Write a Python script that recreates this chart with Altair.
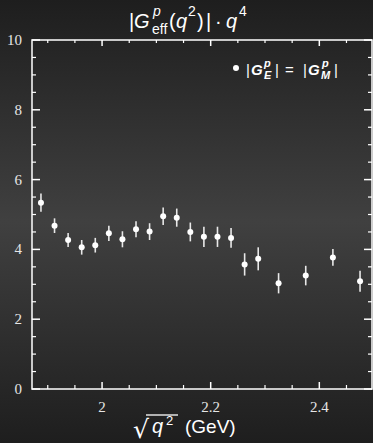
import altair as alt
import pandas as pd

# Proton effective form factor scaled by q^4, one point per energy bin
sqrt_q2 = [1.8875, 1.9125, 1.9375, 1.9625, 1.9875, 2.0125, 2.0375, 2.0625,
           2.0875, 2.1125, 2.1375, 2.1625, 2.1875, 2.2125, 2.2375, 2.2625,
           2.2875, 2.325, 2.375, 2.425, 2.475]
geff_q4 = [5.34, 4.68, 4.27, 4.06, 4.12, 4.46, 4.29, 4.58, 4.51, 4.95, 4.91,
           4.50, 4.36, 4.36, 4.33, 3.57, 3.73, 3.03, 3.25, 3.77, 3.09]
geff_err = [0.26, 0.21, 0.20, 0.21, 0.21, 0.22, 0.23, 0.23, 0.24, 0.25, 0.26,
            0.27, 0.29, 0.29, 0.28, 0.32, 0.33, 0.29, 0.28, 0.24, 0.30]

x_major = [2.0, 2.2, 2.4]
x_labels = ["2", "2.2", "2.4"]
x_minor = [1.9, 1.95, 2.05, 2.1, 2.15, 2.25, 2.3, 2.35, 2.45]
y_major = [0, 2, 4, 6, 8, 10]
y_labels = ["0", "2", "4", "6", "8", "10"]
y_minor = [0.5, 1, 1.5, 2.5, 3, 3.5, 4.5, 5, 5.5, 6.5, 7, 7.5, 8.5, 9, 9.5]

W, H = 340, 349
FG = "#ffffff"
LABEL = "#e6e6e6"
SERIF = "'Liberation Serif', 'Times New Roman', 'DejaVu Serif', serif"

df = pd.DataFrame({
    "x": sqrt_q2,
    "g": geff_q4,
    "lo": [v - e for v, e in zip(geff_q4, geff_err)],
    "hi": [v + e for v, e in zip(geff_q4, geff_err)],
})
one = pd.DataFrame({"k": [0]})

xs = alt.Scale(domain=[1.871, 2.497], nice=False, zero=False)
ys = alt.Scale(domain=[0, 10], nice=False, zero=False)

# dark backdrop, lighter through the middle
backdrop = alt.Chart(one).mark_rect(
    fill=alt.Gradient(
        gradient="linear", x1=0, x2=0, y1=0, y2=1,
        stops=[alt.GradientStop(color="#1e1e1e", offset=0),
               alt.GradientStop(color="#404040", offset=0.5),
               alt.GradientStop(color="#1e1e1e", offset=1)],
    )
).encode(x=alt.value(-32), x2=alt.value(W + 1), y=alt.value(-40), y2=alt.value(H + 54))

# plot frame
frame = alt.Chart(one).mark_rect(fillOpacity=0, stroke=FG, strokeWidth=1.5).encode(
    x=alt.value(0), x2=alt.value(W), y=alt.value(0), y2=alt.value(H))

errbars = alt.Chart(df).mark_rule(color="#e8e8e8", strokeWidth=1.6).encode(
    x=alt.X("x:Q", scale=xs, axis=None),
    y=alt.Y("lo:Q", scale=ys, axis=None),
    y2="hi:Q",
)
points = alt.Chart(df).mark_point(filled=True, shape="circle", size=36,
                                  color=FG, opacity=1).encode(
    x=alt.X("x:Q", scale=xs, axis=None),
    y=alt.Y("g:Q", scale=ys, axis=None),
)


def xticks(vals, length, width):
    d = pd.DataFrame({"t": vals})
    bottom = alt.Chart(d).mark_rule(color=FG, strokeWidth=width).encode(
        x=alt.X("t:Q", scale=xs, axis=None),
        y=alt.value(H), y2=alt.value(H - length))
    top = alt.Chart(d).mark_rule(color=FG, strokeWidth=width).encode(
        x=alt.X("t:Q", scale=xs, axis=None),
        y=alt.value(0), y2=alt.value(length - 1))
    return [bottom, top]


def yticks(vals, length, width):
    d = pd.DataFrame({"t": vals})
    left = alt.Chart(d).mark_rule(color=FG, strokeWidth=width).encode(
        y=alt.Y("t:Q", scale=ys, axis=None),
        x=alt.value(0), x2=alt.value(length))
    right = alt.Chart(d).mark_rule(color=FG, strokeWidth=width).encode(
        y=alt.Y("t:Q", scale=ys, axis=None),
        x=alt.value(W), x2=alt.value(W - length))
    return [left, right]


# tick labels
xlab = alt.Chart(pd.DataFrame({"t": x_major, "s": x_labels})).mark_text(
    font=SERIF, fontSize=15, color=LABEL, align="center",
    baseline="alphabetic",
).encode(x=alt.X("t:Q", scale=xs, axis=None), y=alt.value(H + 23), text="s:N")
ylab = alt.Chart(pd.DataFrame({"t": y_major, "s": y_labels})).mark_text(
    font=SERIF, fontSize=15, color=LABEL, align="right",
    baseline="middle",
).encode(y=alt.Y("t:Q", scale=ys, axis=None), x=alt.value(-10), text="s:N")


def txt(s, x, y, size, style="normal", weight="normal", font="Liberation Sans"):
    return alt.Chart(one).mark_text(
        text=s, align="left", baseline="alphabetic", font=font,
        fontSize=size, fontStyle=style, fontWeight=weight, color=FG,
    ).encode(x=alt.value(x), y=alt.value(y))


# title: |G^p_eff(q^2)| . q^4
title = [
    txt("|", 97, -12, 20),
    txt("G", 102, -12, 20, "italic"),
    txt("p", 121, -24, 14, "italic"),
    txt("eff", 120, -6, 14),
    txt("(", 137, -12, 20),
    txt("q", 144, -12, 20, "italic"),
    txt("2", 156, -24, 14),
    txt(")", 165, -12, 20),
    txt("|", 174, -12, 20),
    txt("\u00b7", 183, -12, 20),
    txt("q", 194, -12, 20, "italic"),
    txt("4", 207, -24, 14),
]

# legend entry: |G^p_E| = |G^p_M|
legend_dot = alt.Chart(one).mark_point(filled=True, shape="circle", size=36,
                                       color=FG, opacity=1).encode(
    x=alt.value(204), y=alt.value(28))
legend = [
    legend_dot,
    txt("|", 214, 35, 15),
    txt("G", 219, 35, 15, "italic", "bold"),
    txt("p", 232, 27, 11, "italic", "bold"),
    txt("E", 232, 39, 11, "italic", "bold"),
    txt("|", 243, 35, 15),
    txt("=", 253, 35, 15),
    txt("|", 271, 35, 15),
    txt("G", 276, 35, 15, "italic", "bold"),
    txt("p", 290, 27, 11, "italic", "bold"),
    txt("M", 289, 39, 11, "italic", "bold"),
    txt("|", 302, 35, 15),
]

# x-axis title: sqrt(q^2) (GeV)
xtitle = [
    txt("\u221a", 101, H + 49, 25, font="DejaVu Sans"),
    alt.Chart(one).mark_rule(color=FG, strokeWidth=1.3).encode(
        x=alt.value(114), x2=alt.value(146), y=alt.value(H + 26), y2=alt.value(H + 26)),
    txt("q", 120, H + 44, 20, "italic"),
    txt("2", 134, H + 36, 13),
    txt("(GeV)", 153, H + 44, 19),
]

chart = alt.layer(
    backdrop, frame, errbars, points,
    *xticks(x_major, 7, 1.5), *xticks(x_minor, 4, 1.2),
    *yticks(y_major, 8, 1.5), *yticks(y_minor, 4, 1.2),
    xlab, ylab,
    *title, *legend, *xtitle,
).properties(
    width=W, height=H,
    autosize=alt.AutoSizeParams(type="none"),
    padding={"left": 32, "top": 40, "right": 1, "bottom": 54},
    background="#262626",
).configure_view(
    stroke=None,
)

chart.save("out.html", embed_options={"renderer": "svg", "actions": False})
